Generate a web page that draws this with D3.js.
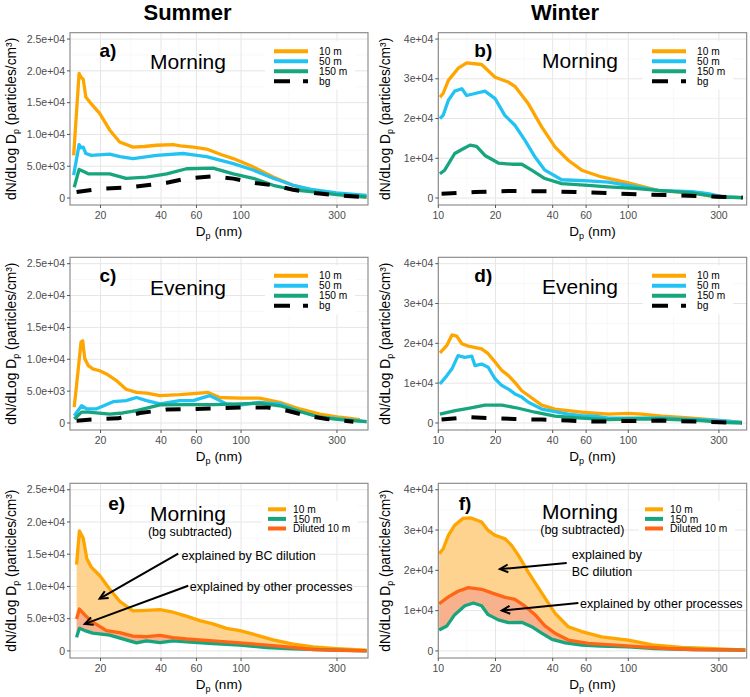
<!DOCTYPE html>
<html><head><meta charset="utf-8">
<script src="https://cdn.jsdelivr.net/npm/d3@7"></script>
<style>body{margin:0;background:#fff}svg{font-family:"Liberation Sans",Arial,Helvetica,sans-serif}</style>
</head><body><svg id="c" width="750" height="697"></svg>
<script>
// ---------------- DATA ----------------
const summerXTicks = [20, 40, 60, 100, 300];
const summerXLabels = ["20", "40", "60", "100", "300"];
const winterXTicks = [10, 20, 40, 60, 100, 300];
const winterXLabels = ["10", "20", "40", "60", "100", "300"];
const summerYTicks = [0, 5000, 10000, 15000, 20000, 25000];
const summerYLabels = ["0", "5.0e+03", "1.0e+04", "1.5e+04", "2.0e+04", "2.5e+04"];
const winterYTicks = [0, 10000, 20000, 30000, 40000];
const winterYLabels = ["0", "1e+04", "2e+04", "3e+04", "4e+04"];
const heightLabels = ["10 m", "50 m", "150 m", "bg"];
const subtractedLabels = ["10 m", "150 m", "Diluted 10 m"];

// a) Summer morning
const a10 = [[14.7,6700],[15.65,19600],[16.0,19000],[16.4,18700],[16.9,15900],[18.0,14800],[19.8,13300],[22.2,10700],[24.9,8800],[29.0,8000],[33.0,8100],[38.0,8300],[45.9,8400],[50,8200],[57.8,8000],[67.4,7700],[80,6800],[91.5,6200],[114.8,4900],[144.5,3300],[181.6,2000],[228.6,1200],[298,600],[421,160]];
const a50 = [[14.7,3600],[15.65,8400],[16.0,7900],[16.4,8000],[16.9,7000],[18.0,6700],[22.2,6900],[25,6500],[29,6200],[38,6700],[51.5,7000],[57.8,6800],[67.4,6500],[91.5,5400],[114.8,4400],[144.5,3100],[181.6,2000],[228.6,1300],[298,800],[421,420]];
const a150 = [[14.8,1700],[15.65,4500],[16.7,4100],[17.4,3800],[22.2,3800],[26.8,3100],[33.9,3300],[42.7,3800],[53.5,4600],[72.5,4700],[91.5,3800],[114.8,3100],[144.5,2000],[181.6,1300],[228.6,950],[298,530],[421,160]];
const aBg = [[15.2,940],[19.8,1450],[26.8,1650],[33.9,2000],[42.7,2400],[53.5,3050],[72.5,3400],[91.5,3050],[114.8,2400],[144.5,2000],[181.6,1300],[228.6,800],[298,420],[400,160]];

// b) Winter morning
const b10 = [[10.2,25400],[10.6,26300],[11.3,29600],[12.7,32600],[14.1,34000],[16.9,33600],[19.9,30400],[23.3,29200],[25.3,28100],[29.8,23700],[35.0,17900],[41.2,12800],[48.3,9500],[56.9,7000],[72.4,5300],[100,3800],[143,1900],[216,1300],[298,250],[400,100]];
const b50 = [[10.2,20000],[10.6,20800],[11.3,24600],[12.2,26900],[13.3,27500],[14.1,25800],[15.6,26300],[17.6,26900],[19.9,25000],[22.4,20800],[25.3,18300],[28.6,14500],[32.3,10300],[36.4,7000],[44.6,4600],[61.5,4300],[78.5,4000],[108,2900],[143,1900],[216,1600],[263,1100],[320,250],[400,100]];
const b150 = [[10.2,6100],[10.8,7000],[12.2,11200],[13.3,12200],[14.7,13300],[15.9,13000],[17.6,10700],[20.7,8800],[24.3,8500],[27.5,8500],[31.0,7000],[36.4,4900],[44.6,3600],[61.5,3200],[78.5,2800],[108,2400],[143,1900],[216,1300],[298,250],[400,100]];
const bBg = [[10.4,1100],[15.6,1500],[23.3,1750],[35,1700],[52.5,1500],[78.5,1250],[118,860],[176,680],[263,430],[400,100]];

// c) Summer evening
const c10 = [[14.8,2500],[15.5,8500],[16.0,12700],[16.3,12900],[16.7,10100],[17.4,9000],[18.3,8500],[19.8,8200],[21.4,7700],[23.9,6700],[26.8,5300],[30.2,4800],[33.9,4700],[39.5,4300],[49.6,4450],[62.3,4700],[68.5,4800],[78.4,4000],[98.6,3900],[123.5,3900],[156,3250],[196,2200],[247,1400],[310,900],[390,520]];
const c50 = [[14.8,1150],[16.1,2700],[17.1,2200],[19.0,2200],[23.1,3350],[26.8,3500],[30.2,4000],[33.9,3500],[39.5,3000],[49.6,3500],[57.7,3500],[69.8,4300],[84.6,3000],[98.6,2800],[123.5,3250],[156,3000],[196,1800],[247,900],[310,630],[421,210]];
const c150 = [[14.8,630],[16.1,1700],[17.4,1700],[22.2,1400],[25.8,1570],[30.2,1940],[35.2,2460],[39.5,2830],[53.5,2880],[72.5,2880],[98.6,3000],[123.5,3100],[156,2700],[196,1800],[247,900],[310,520],[421,210]];
const cBg = [[15.2,370],[19.8,630],[24.5,730],[31.4,1570],[42.7,2100],[57.7,2200],[78.4,2300],[106,2450],[134,2450],[168,1950],[212,1150],[267,630],[362,210]];

// d) Winter evening
const d10 = [[10.2,17600],[11.1,19500],[11.8,22100],[12.5,21800],[13.3,19900],[14.4,19300],[16.9,18600],[18.3,17400],[19.9,15300],[21.6,13200],[23.4,11900],[25.3,10200],[27.5,8100],[29.8,6900],[35.0,4500],[41.1,3500],[48.3,3100],[56.9,2700],[78.5,2250],[100,2400],[117.7,2250],[150,1700],[191,1400],[243,1000],[310,600],[395,170]];
const d50 = [[10.2,9800],[11.1,11900],[11.8,13600],[12.7,16900],[13.8,16500],[15.0,16800],[15.6,14400],[16.9,14800],[18.3,14000],[19.9,11100],[21.6,9400],[23.4,8500],[25.3,7300],[27.5,6500],[29.8,5200],[35.0,3500],[41.1,2850],[48.3,2250],[56.9,1850],[66.8,1700],[78.5,1200],[100,1200],[150,1250],[191,1000],[243,850],[310,600],[395,170]];
const d150 = [[10.2,2250],[12.3,3100],[14.4,3700],[17.6,4500],[21.6,4500],[26.4,3700],[32.3,2700],[41.1,1700],[56.9,1200],[78.5,850],[100,1000],[150,1000],[243,600],[310,170],[395,0]];
const dBg = [[10.4,850],[14.4,1450],[19.9,1200],[25.3,1000],[35,850],[48.3,600],[66.8,350],[100,500],[150,600],[226,350],[395,0]];

// e) Summer morning, bg subtracted
const e10 = [[15.2,13400],[15.7,18600],[16.4,17500],[17.1,14300],[18.0,13000],[19.8,11700],[22.2,9600],[24.9,7700],[29.0,6200],[33.9,6300],[39.5,6400],[45.9,6000],[53.5,5400],[62.3,4700],[72.5,4200],[84.6,3500],[98.6,3150],[114.8,2600],[144.5,1700],[181.6,1050],[228.6,630],[298,370],[421,100]];
const eDiluted = [[15.2,4950],[15.7,6500],[16.7,5600],[18.0,4600],[19.8,3800],[21.4,3150],[24.9,2850],[29.0,2300],[33.9,2200],[39.5,2400],[45.9,2050],[53.5,1850],[72.5,1550],[98.6,1250],[134,900],[181.6,530],[228.6,210],[298,100],[421,0]];
const e150 = [[15.2,2100],[15.7,3500],[16.7,3150],[18.3,2750],[22.2,2450],[26.8,1700],[30.2,1250],[33.9,1550],[39.5,1300],[45.9,1550],[53.5,1400],[72.5,1150],[98.6,900],[134,530],[181.6,320],[247,200],[421,0]];

// f) Winter morning, bg subtracted
const f10 = [[10.1,24100],[10.6,25300],[11.3,28700],[12.2,31200],[13.5,32900],[14.9,33000],[16.9,32000],[18.3,29900],[19.9,28700],[22.5,27800],[24.3,26200],[26.4,23700],[29.8,19500],[35.0,14400],[41.1,9400],[48.3,6000],[56.9,4800],[72.4,3500],[100,2700],[138,1400],[191,850],[263,600],[413,170]];
const fDiluted = [[10.1,11700],[11.3,13400],[12.7,14800],[14.4,15700],[16.9,15300],[19.1,14400],[22.5,13300],[25.3,12800],[28.6,11100],[32.3,9000],[36.4,6200],[41.1,4400],[48.3,2700],[61.6,1850],[85.1,1450],[117.7,1000],[160,600],[220,350],[413,170]];
const f150 = [[10.1,5200],[11.1,6200],[12.2,9000],[13.8,11200],[15.3,11900],[16.9,11200],[18.3,9000],[20.7,7700],[23.4,7000],[27.5,7100],[31.0,6000],[35.0,4400],[39.7,2850],[46.6,2000],[56.9,1450],[71.2,1170],[100,1000],[138,600],[220,350],[413,170]];

// annotations (data coordinates: [Dp nm, value])
const eArrowFrom = [[48.7,15100],[54.6,10100]];
const eArrowTo = [[19.8,8100],[16.7,4200]];
const eNoteText = ["explained by BC dilution", "explained by other processes"];
const eNotePos = [[50.6,14830],[55.6,9940]];
const fArrowFrom = [[47.4,21800],[54.6,11900]];
const fArrowTo = [[21.1,20300],[21.6,10000]];
const fNoteText = ["explained by", "BC dilution", "explained by other processes"];
const fNotePos = [[50.4,23900],[50.4,19600],[55.7,11750]];

// ---------------- STYLE / LAYOUT ----------------
const COL = {o:"#FFA500", b:"#22C3F2", g:"#16A57E", bg:"#000000", dil:"#FF6514"};
const FILL_UP = "#FED38F", FILL_LO = "#F8B18D";
const cols = {
  summer: {l:70, r:368, xd:[14.1,428], xt:summerXTicks, xl:summerXLabels, yd:[-1100,26000], yt:summerYTicks, yl:summerYLabels, yLabX:11, cx:187.5, title:"Summer", legOff:204, legOff2:198},
  winter: {l:438.3, r:746.7, xd:[10,420], xt:winterXTicks, xl:winterXLabels, yd:[-1760,41600], yt:winterYTicks, yl:winterYLabels, yLabX:385, cx:565, title:"Winter", legOff:213.7, legOff2:206.7}
};
const rows = [[32.7,205],[257.3,430],[483.3,658]];

const panels = [
  {id:"a", s:"summer", row:0, tag:"a)", tagOff:[38,17.5], name:"Morning", nameOff:[118,29.5], series:[[a10,"o"],[a50,"b"],[a150,"g"],[aBg,"bg"]]},
  {id:"b", s:"winter", row:0, tag:"b)", tagOff:[45,17.5], name:"Morning", nameOff:[141.7,28], series:[[b10,"o"],[b50,"b"],[b150,"g"],[bBg,"bg"]]},
  {id:"c", s:"summer", row:1, tag:"c)", tagOff:[38,18], name:"Evening", nameOff:[118,31], series:[[c10,"o"],[c50,"b"],[c150,"g"],[cBg,"bg"]]},
  {id:"d", s:"winter", row:1, tag:"d)", tagOff:[45,18], name:"Evening", nameOff:[141.7,29.5], series:[[d10,"o"],[d50,"b"],[d150,"g"],[dBg,"bg"]]},
  {id:"e", s:"summer", row:2, tag:"e)", tagOff:[46.7,20], name:"Morning", nameOff:[118,31], sub:true, subOff:[120,48],
   series:[[e10,"o"],[e150,"g"],[eDiluted,"dil"]], fills:[[e10,eDiluted,FILL_UP],[eDiluted,e150,FILL_LO]],
   arrows:[eArrowFrom,eArrowTo], notes:[eNoteText,eNotePos]},
  {id:"f", s:"winter", row:2, tag:"f)", tagOff:[26.7,19.7], name:"Morning", nameOff:[141.7,28.3], sub:true, subOff:[144,46.5],
   series:[[f10,"o"],[f150,"g"],[fDiluted,"dil"]], fills:[[f10,fDiluted,FILL_UP],[fDiluted,f150,FILL_LO]],
   arrows:[fArrowFrom,fArrowTo], notes:[fNoteText,fNotePos]}
];

const svg = d3.select("#c");
svg.append("rect").attr("width",750).attr("height",697).attr("fill","#fff");
const defs = svg.append("defs");

// column titles
Object.values(cols).forEach(c=>{
  svg.append("text").attr("x",c.cx).attr("y",19.5).attr("text-anchor","middle")
    .attr("font-size",22).attr("font-weight","bold").attr("fill","#000").text(c.title);
});

function drawPanel(p){
  const c = cols[p.s], r = rows[p.row];
  const x = d3.scaleLog().domain(c.xd).range([c.l, c.r]);
  const y = d3.scaleLinear().domain(c.yd).range([r[1], r[0]]);
  const g = svg.append("g");
  const W = c.r - c.l, H = r[1] - r[0];
  g.append("rect").attr("x",c.l).attr("y",r[0]).attr("width",W).attr("height",H).attr("fill","#fff");
  defs.append("clipPath").attr("id","clip"+p.id).append("rect").attr("x",c.l).attr("y",r[0]).attr("width",W).attr("height",H);

  // grid
  const xMinor = d3.pairs(c.xt).map(([a,b])=>Math.sqrt(a*b));
  const yMinor = d3.pairs(c.yt).map(([a,b])=>(a+b)/2);
  g.selectAll(null).data(xMinor).join("line").attr("x1",d=>x(d)).attr("x2",d=>x(d)).attr("y1",r[0]).attr("y2",r[1]).attr("stroke","#F3F3F3").attr("stroke-width",0.6);
  g.selectAll(null).data(yMinor).join("line").attr("y1",d=>y(d)).attr("y2",d=>y(d)).attr("x1",c.l).attr("x2",c.r).attr("stroke","#F3F3F3").attr("stroke-width",0.6);
  g.selectAll(null).data(c.xt).join("line").attr("x1",d=>x(d)).attr("x2",d=>x(d)).attr("y1",r[0]).attr("y2",r[1]).attr("stroke","#E6E6E6").attr("stroke-width",1);
  g.selectAll(null).data(c.yt).join("line").attr("y1",d=>y(d)).attr("y2",d=>y(d)).attr("x1",c.l).attr("x2",c.r).attr("stroke","#E6E6E6").attr("stroke-width",1);

  const plot = g.append("g").attr("clip-path","url(#clip"+p.id+")");
  const line = d3.line().x(d=>x(d[0])).y(d=>y(d[1]));
  if(p.fills){
    p.fills.forEach(([up,lo,fc])=>{
      const poly = up.concat(lo.slice().reverse());
      plot.append("path").attr("d", line(poly)+"Z").attr("fill",fc).attr("stroke","none");
    });
  }
  p.series.forEach(([data,k])=>{
    const path = plot.append("path").attr("d",line(data)).attr("fill","none").attr("stroke",COL[k])
      .attr("stroke-width",k==="bg"?4:3.3).attr("stroke-linejoin","round");
    if(k==="bg") path.attr("stroke-dasharray","15,15");
  });

  // border
  g.append("rect").attr("x",c.l).attr("y",r[0]).attr("width",W).attr("height",H).attr("fill","none").attr("stroke","#858585").attr("stroke-width",1.1);

  // axes ticks
  g.selectAll(null).data(c.xt).join("line").attr("x1",d=>x(d)).attr("x2",d=>x(d)).attr("y1",r[1]).attr("y2",r[1]+3).attr("stroke","#555").attr("stroke-width",1);
  g.selectAll(null).data(c.xt).join("text").attr("x",d=>x(d)).attr("y",r[1]+14).attr("text-anchor","middle")
    .attr("font-size",10.5).attr("fill","#4D4D4D").text((d,i)=>c.xl[i]);
  g.selectAll(null).data(c.yt).join("line").attr("y1",d=>y(d)).attr("y2",d=>y(d)).attr("x1",c.l-3).attr("x2",c.l).attr("stroke","#555").attr("stroke-width",1);
  g.selectAll(null).data(c.yt).join("text").attr("x",c.l-5).attr("y",d=>y(d)+3.7).attr("text-anchor","end")
    .attr("font-size",10.5).attr("fill","#4D4D4D").text((d,i)=>c.yl[i]);

  // axis titles
  const xt = g.append("text").attr("x",(c.l+c.r)/2).attr("y",r[1]+31).attr("text-anchor","middle").attr("font-size",13.5).attr("fill","#000");
  xt.append("tspan").text("D");
  xt.append("tspan").attr("font-size",9).attr("dy",3).text("p");
  xt.append("tspan").attr("dy",-3).text(" (nm)");
  const yc = (r[0]+r[1])/2;
  const yt = g.append("text").attr("transform",`translate(${c.yLabX+5},${yc}) rotate(-90)`).attr("text-anchor","middle").attr("font-size",13.8).attr("fill","#000");
  yt.append("tspan").text("dN/dLog D");
  yt.append("tspan").attr("font-size",9).attr("dy",3).text("p");
  yt.append("tspan").attr("dy",-3).text(" (particles/cm³)");

  // labels
  g.append("text").attr("x",c.l+p.tagOff[0]).attr("y",r[0]+p.tagOff[1]+7).attr("text-anchor","middle").attr("font-size",19).attr("font-weight","bold").text(p.tag);
  g.append("text").attr("x",c.l+p.nameOff[0]).attr("y",r[0]+p.nameOff[1]+7).attr("text-anchor","middle").attr("font-size",21).text(p.name);
  if(p.sub){
    g.append("text").attr("x",c.l+p.subOff[0]).attr("y",r[0]+p.subOff[1]+4.5).attr("text-anchor","middle").attr("font-size",12.5).text("(bg subtracted)");
  }

  // legend
  if(!p.sub){
    const lx = c.l + c.legOff;
    g.append("rect").attr("x",lx-9).attr("y",r[0]+8).attr("width",90).attr("height",49).attr("fill","#fff");
    p.series.forEach(([data,k],i)=>{
      const ly = r[0]+18.5+i*10;
      const ln = g.append("line").attr("x1",lx).attr("x2",lx+34).attr("y1",ly).attr("y2",ly).attr("stroke",COL[k]).attr("stroke-width",4);
      if(k==="bg") ln.attr("stroke-dasharray","16,13");
      g.append("text").attr("x",lx+45).attr("y",ly+3.6).attr("font-size",10.2).text(heightLabels[i]);
    });
  } else {
    const lx = c.l + c.legOff2;
    g.append("rect").attr("x",lx-6).attr("y",r[0]+18).attr("width",96).attr("height",35).attr("fill","#fff");
    p.series.forEach(([data,k],i)=>{
      const ly = r[0]+26+i*9.6;
      g.append("line").attr("x1",lx).attr("x2",lx+18).attr("y1",ly).attr("y2",ly).attr("stroke",COL[k]).attr("stroke-width",4);
      g.append("text").attr("x",lx+25).attr("y",ly+3.6).attr("font-size",10.2).text(subtractedLabels[i]);
    });
  }

  // annotations
  if(p.arrows){
    const [from,to] = p.arrows;
    from.forEach((f,i)=>{
      const t = to[i];
      const x1=x(f[0]), y1=y(f[1]), x2=x(t[0]), y2=y(t[1]);
      g.append("line").attr("x1",x1).attr("y1",y1).attr("x2",x2).attr("y2",y2).attr("stroke","#000").attr("stroke-width",2);
      const ang = Math.atan2(y1-y2, x1-x2), L=9, A=Math.PI/7;
      const pts = [[x2+L*Math.cos(ang+A), y2+L*Math.sin(ang+A)],[x2,y2],[x2+L*Math.cos(ang-A), y2+L*Math.sin(ang-A)]];
      g.append("path").attr("d",d3.line()(pts)).attr("fill","none").attr("stroke","#000").attr("stroke-width",2).attr("stroke-linejoin","miter");
    });
    const [texts,pos] = p.notes;
    texts.forEach((tx,i)=>{
      g.append("text").attr("x",x(pos[i][0])).attr("y",y(pos[i][1])+4.5).attr("font-size",12.5).text(tx);
    });
  }
}
panels.forEach(drawPanel);
</script>
</body></html>
